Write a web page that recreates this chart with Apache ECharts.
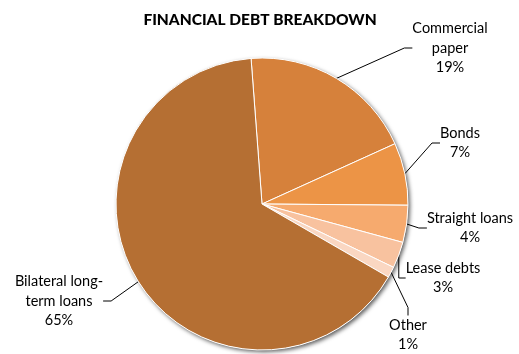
<!DOCTYPE html>
<html><head><meta charset="utf-8">
<script src="https://cdn.jsdelivr.net/npm/echarts@6/dist/echarts.min.js"></script>
<style>html,body{margin:0;padding:0;background:#fff}#c{width:519px;height:354px}</style>
</head><body><div id="c"></div>
<script>
const categories = ['Commercial\npaper', 'Bonds', 'Straight loans', 'Lease debts', 'Other', 'Bilateral long-\nterm loans'];
const values = [19.4, 6.9, 4.1, 2.9, 1.2, 65.4];
const colors = ['#D6813B', '#EC9446', '#F6AA6E', '#F8C29F', '#FAD7C2', '#B56F33'];
// label anchor positions (centre of text block)
const labelPos = [[450, 48], [460, 143], [470, 228], [443, 278], [408, 335], [59, 301]];

const chart = echarts.init(document.getElementById('c'), null, {renderer: 'canvas'});
const FONT = 'Lato, "Liberation Sans", sans-serif';
chart.setOption({
  animation: false,
  title: {
    text: 'FINANCIAL DEBT BREAKDOWN', left: 255, top: 7, textAlign: 'center',
    textStyle: {fontFamily: FONT, fontSize: 15.5, fontWeight: 900, color: '#000'}
  },
  series: [
    {
      type: 'pie', center: [262, 204], radius: 146, silent: true, z: 1,
      label: {show: false}, labelLine: {show: false},
      itemStyle: {color: '#fff', shadowBlur: 4, shadowOffsetX: 2, shadowOffsetY: 2, shadowColor: 'rgba(0,0,0,0.65)'},
      data: [{value: 1, name: 'bg'}]
    },
    {
      type: 'pie', center: [262, 204], radius: 146, startAngle: 94.3, clockwise: true, z: 2,
      itemStyle: {borderColor: '#fff', borderWidth: 1},
      label: {
        show: true, position: 'outside', fontFamily: FONT, fontSize: 14.5, color: '#000',
        lineHeight: 19.5, align: 'center', overflow: 'none',
        formatter: p => p.name + '\n' + Math.round(p.percent) + '%'
      },
      labelLine: {show: true, length: 12, length2: 8, lineStyle: {color: '#000', width: 1}},
      labelLayout: function (p) {
        const pos = labelPos[p.dataIndex];
        return {x: pos[0], y: pos[1], align: 'center', verticalAlign: 'middle'};
      },
      data: categories.map((c, i) => ({name: c, value: values[i], itemStyle: {color: colors[i]}}))
    }
  ]
});
</script></body></html>
